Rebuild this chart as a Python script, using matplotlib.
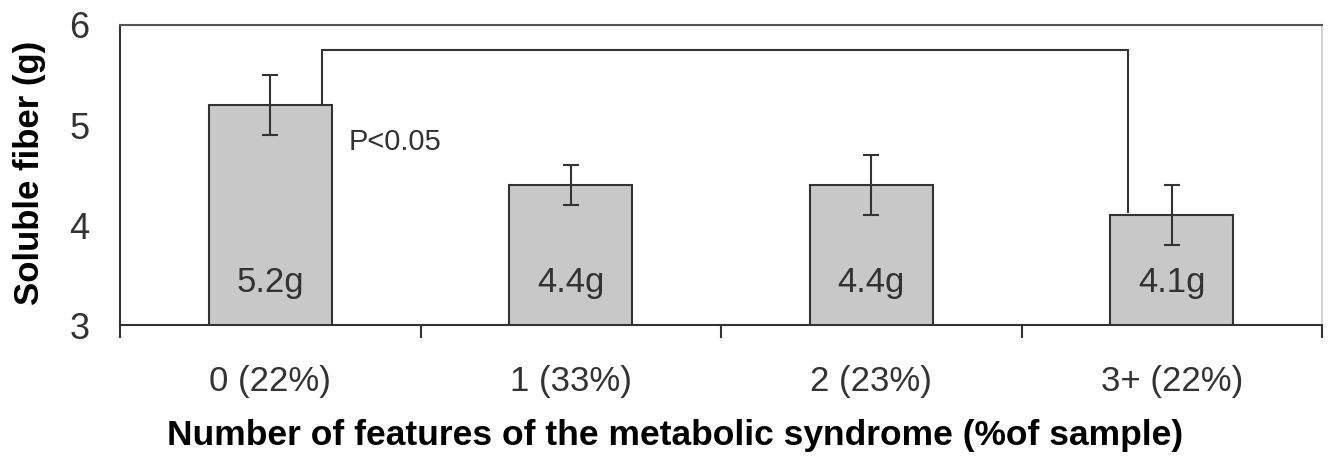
import numpy as np
import matplotlib
matplotlib.use("Agg")
import matplotlib.pyplot as plt

plt.rcParams["font.family"] = ["Liberation Sans", "DejaVu Sans"]

# data
categories = ["0 (22%)", "1 (33%)", "2 (23%)", "3+ (22%)"]
fiber_g = [5.2, 4.4, 4.4, 4.1]
fiber_err = [0.3, 0.2, 0.3, 0.3]
value_labels = ["5.2g", "4.4g", "4.4g", "4.1g"]
y_ticks = [3, 4, 5, 6]

DARK = "#333333"

fig = plt.figure(figsize=(13.32, 4.57), dpi=100)
ax = fig.add_axes([0.0901, 0.2888, 0.9024, 0.6565])

x = np.arange(len(categories))
ax.bar(x, fiber_g, width=0.41, bottom=0, color="#c8c8c8", edgecolor=DARK,
       linewidth=1.5, zorder=2)
ax.errorbar(x, fiber_g, yerr=fiber_err, fmt="none", ecolor=DARK,
            elinewidth=1.5, capsize=6, capthick=1.5, zorder=3)

for xi, lab in zip(x, value_labels):
    ax.text(xi, 3.33, lab, ha="center", va="baseline", fontsize=25, color=DARK,
            zorder=4)

# significance bracket between group 0 and group 3+
br_y = 5.75
x_left, x_right = 0.173, 2.853
ax.plot([x_left, x_left, x_right, x_right],
        [fiber_g[0], br_y, br_y, fiber_g[3] + 0.03],
        color=DARK, lw=1.5, solid_joinstyle="miter", zorder=3)
ax.text(0.26, 4.83, "P<0.05", ha="left", va="center", fontsize=21, color=DARK)

ax.set_xlim(-0.5, 3.5)
ax.set_ylim(3, 6)
ax.set_yticks(y_ticks)
ax.set_yticklabels([str(t) for t in y_ticks])
ax.tick_params(axis="y", length=0, pad=22, labelsize=26, labelcolor=DARK)

ax.set_xticks(x)
ax.set_xticklabels(categories)
ax.set_xticks(np.arange(-0.5, len(categories)), minor=True)
ax.tick_params(axis="x", which="major", length=0, pad=29, labelsize=25,
               labelcolor=DARK)
ax.tick_params(axis="x", which="minor", length=9, width=1.5, color=DARK)

for side in ["left", "bottom"]:
    ax.spines[side].set_color(DARK)
    ax.spines[side].set_linewidth(1.5)
ax.spines["top"].set_color("#555555")
ax.spines["top"].set_linewidth(1.5)
ax.spines["right"].set_color("#cccccc")
ax.spines["right"].set_linewidth(1.2)

fig.text(0.022, 0.622, "Soluble fiber (g)", rotation=90, ha="center",
         va="center", fontsize=25, fontweight="bold")
fig.text(0.507, 0.027, "Number of features of the metabolic syndrome (%of sample)",
         ha="center", va="baseline", fontsize=25.5, fontweight="bold")

fig.savefig("out.png", dpi=100)
